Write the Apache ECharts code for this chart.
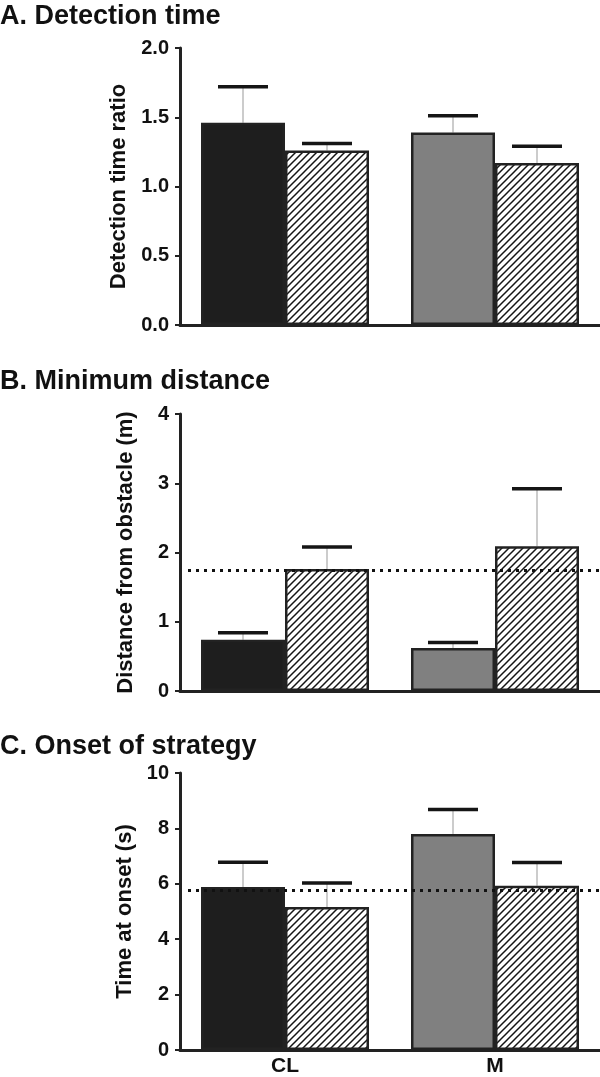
<!DOCTYPE html>
<html>
<head>
<meta charset="utf-8">
<script src="https://cdn.jsdelivr.net/npm/echarts@6/dist/echarts.min.js"></script>
<style>
  html, body { margin: 0; padding: 0; background: #fff; }
  #main { width: 600px; height: 1077px; }
</style>
</head>
<body>
<div id="main"></div>
<script>
// groups on the x axis
var groups = ['CL', 'M'];

// A. detection time ratio
var detSolid = [1.46, 1.39];
var detSolidErr = [0.26, 0.12];
var detHatch = [1.26, 1.17];
var detHatchErr = [0.05, 0.12];

// B. minimum distance (m)
var distSolid = [0.74, 0.62];
var distSolidErr = [0.10, 0.08];
var distHatch = [1.76, 2.09];
var distHatchErr = [0.32, 0.83];
var distRef = 1.75;

// C. onset of strategy (s)
var onsetSolid = [5.88, 7.80];
var onsetSolidErr = [0.90, 0.88];
var onsetHatch = [5.16, 5.93];
var onsetHatchErr = [0.87, 0.84];
var onsetRef = 5.76;

var solidColors = ['#1e1e1e', '#808080'];
var font = "'Liberation Sans', Arial, sans-serif";
var narrow = "'Liberation Sans Narrow', 'Liberation Sans', Arial, sans-serif";

/*斜线填充*/
function hatchPattern() {
	var c = document.createElement('canvas');
	c.width = 7; c.height = 7;
	var ctx = c.getContext('2d');
	ctx.fillStyle = '#fff';
	ctx.fillRect(0, 0, 7, 7);
	ctx.strokeStyle = '#151515';
	ctx.lineWidth = 1.5;
	ctx.beginPath();
	ctx.moveTo(-1, 8); ctx.lineTo(8, -1);
	ctx.moveTo(-3, 3); ctx.lineTo(3, -3);
	ctx.moveTo(4, 10); ctx.lineTo(10, 4);
	ctx.stroke();
	return c;
}
var hatch = { image: hatchPattern(), repeat: 'repeat' };

var tops = [48, 414, 773];
var gridH = 277;

function yAxis(idx, name, max, interval, digits) {
	return {
		type: 'value', gridIndex: idx, min: 0, max: max, interval: interval,
		name: name, nameLocation: 'middle', nameGap: 43,
		nameTextStyle: { fontFamily: font, fontWeight: 'bold', fontSize: 22, color: '#111' },
		axisLine: { show: true, lineStyle: { color: '#222', width: 3 } },
		axisTick: { show: true, length: 5, lineStyle: { color: '#222', width: 2 } },
		axisLabel: {
			fontFamily: narrow, fontWeight: 'bold', fontSize: 20, color: '#111', margin: 11,
			formatter: function (v) { return v.toFixed(digits); }
		},
		splitLine: { show: false }
	};
}

function xAxis(idx, showLabel) {
	return {
		type: 'category', gridIndex: idx, data: groups,
		axisLine: { show: true, lineStyle: { color: '#222', width: 3 } },
		axisTick: { show: false },
		axisLabel: { show: showLabel, fontFamily: font, fontWeight: 'bold', fontSize: 21, color: '#111', margin: 6 }
	};
}

function barSeries(idx, vals, hatched, ref) {
	var s = {
		type: 'bar', xAxisIndex: idx, yAxisIndex: idx,
		barWidth: '40%', barGap: '0%',
		data: vals.map(function (v, i) {
			return {
				value: v,
				itemStyle: {
					color: hatched ? hatch : solidColors[i],
					borderColor: '#222', borderWidth: 2.5
				}
			};
		})
	};
	if (ref != null) {
		s.markLine = {
			silent: true, symbol: 'none', label: { show: false },
			lineStyle: { color: '#111', width: 3, type: [3, 5] },
			data: [[{ x: 188, yAxis: ref }, { x: 600, yAxis: ref }]]
		};
		s.z = 3;
	}
	return s;
}

// 误差线 (only upward)
function errSeries(idx, vals, errs, side) {
	return {
		type: 'custom', xAxisIndex: idx, yAxisIndex: idx, z: 1,
		data: vals.map(function (v, i) { return [i, v, errs[i], side]; }),
		renderItem: function (params, api) {
			var cat = api.value(0), v = api.value(1), e = api.value(2), sd = api.value(3);
			var band = api.size([1, 0])[0];
			var x = api.coord([cat, 0])[0] + (sd ? 0.2 : -0.2) * band;
			var y1 = api.coord([cat, v])[1];
			var y2 = api.coord([cat, v + e])[1];
			return {
				type: 'group',
				children: [
					{ type: 'line', shape: { x1: x, y1: y1, x2: x, y2: y2 }, style: { stroke: '#999', lineWidth: 1 } },
					{ type: 'line', shape: { x1: x - 25, y1: y2, x2: x + 25, y2: y2 }, style: { stroke: '#151515', lineWidth: 3.5 } }
				]
			};
		}
	};
}

var myChart = echarts.init(document.getElementById('main'));
var option = {
	animation: false,
	title: [
		{ text: 'A. Detection time', left: 0, top: 3 },
		{ text: 'B. Minimum distance', left: 0, top: 368 },
		{ text: 'C. Onset of strategy', left: 0, top: 733 }
	].map(function (t) {
		t.padding = 0;
		t.textStyle = { fontFamily: font, fontWeight: 'bold', fontSize: 27, color: '#111' };
		return t;
	}),
	grid: tops.map(function (t) {
		return { left: 180, right: 0, top: t, height: gridH };
	}),
	xAxis: [xAxis(0, false), xAxis(1, false), xAxis(2, true)],
	yAxis: [
		yAxis(0, 'Detection time ratio', 2, 0.5, 1),
		yAxis(1, 'Distance from obstacle (m)', 4, 1, 0),
		yAxis(2, 'Time at onset (s)', 10, 2, 0)
	],
	series: [
		errSeries(0, detSolid, detSolidErr, 0),
		errSeries(0, detHatch, detHatchErr, 1),
		barSeries(0, detSolid, false),
		barSeries(0, detHatch, true),

		errSeries(1, distSolid, distSolidErr, 0),
		errSeries(1, distHatch, distHatchErr, 1),
		barSeries(1, distSolid, false),
		barSeries(1, distHatch, true, distRef),

		errSeries(2, onsetSolid, onsetSolidErr, 0),
		errSeries(2, onsetHatch, onsetHatchErr, 1),
		barSeries(2, onsetSolid, false),
		barSeries(2, onsetHatch, true, onsetRef)
	]
};
myChart.setOption(option);
</script>
</body>
</html>
